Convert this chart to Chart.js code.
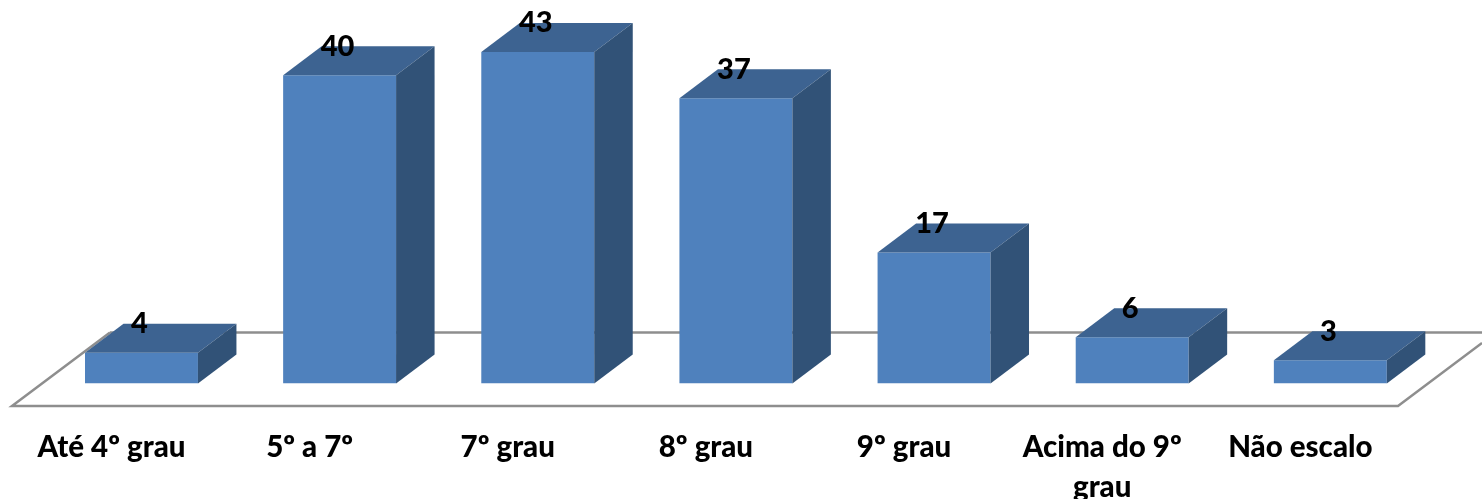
<!DOCTYPE html>
<html>
<head>
<meta charset="utf-8">
<script src="https://cdn.jsdelivr.net/npm/chart.js@4"></script>
<style>
  html, body { margin: 0; padding: 0; background: #fff; overflow: hidden; }
  canvas { display: block; }
</style>
</head>
<body>
<canvas id="grauchart" width="1482" height="499"></canvas>
<script>
// chart data
var categories = ["Até 4º grau", "5º a 7º", "7º grau", "8º grau", "9º grau", ["Acima do 9º", "grau"], "Não escalo"];
var values = [4, 40, 43, 37, 17, 6, 3];

// depth of the fake 3D look
var depthX = 38.5;
var depthY = 29;

var fontName = "Lato, 'Open Sans', sans-serif";

// floor goes under the bars
var floorPlugin = {
  id: "floor",
  beforeDatasetsDraw: function (chart) {
    var ctx = chart.ctx;
    var base = chart.scales.y.getPixelForValue(0);
    var frontY = base + 22.5;
    var backY = base - 51;
    ctx.save();
    ctx.strokeStyle = "#8e8e8e";
    ctx.lineWidth = 2.5;
    ctx.beginPath();
    ctx.moveTo(110, backY);
    ctx.lineTo(12, frontY);
    ctx.lineTo(1398, frontY);
    ctx.lineTo(1482, frontY - 63);
    ctx.moveTo(110, backY);
    ctx.lineTo(1482, backY);
    ctx.stroke();
    ctx.restore();
  },
};

// top and side faces, then the numbers
var boxPlugin = {
  id: "box",
  afterDatasetsDraw: function (chart) {
    var ctx = chart.ctx;
    var bars = chart.getDatasetMeta(0).data;
    ctx.save();
    bars.forEach(function (bar) {
      var left = bar.x - bar.width / 2;
      var right = bar.x + bar.width / 2;

      ctx.fillStyle = "#3d6391";
      ctx.beginPath();
      ctx.moveTo(left, bar.y);
      ctx.lineTo(left + depthX, bar.y - depthY);
      ctx.lineTo(right + depthX, bar.y - depthY);
      ctx.lineTo(right, bar.y);
      ctx.closePath();
      ctx.fill();

      ctx.fillStyle = "#315277";
      ctx.beginPath();
      ctx.moveTo(right, bar.y);
      ctx.lineTo(right + depthX, bar.y - depthY);
      ctx.lineTo(right + depthX, bar.base - depthY);
      ctx.lineTo(right, bar.base);
      ctx.closePath();
      ctx.fill();
    });

    ctx.fillStyle = "#000";
    ctx.font = "900 29px " + fontName;
    ctx.textAlign = "center";
    ctx.textBaseline = "middle";
    bars.forEach(function (bar, i) {
      ctx.fillText(values[i], bar.x - 2, bar.y - 29);
    });
    ctx.restore();
  },
};

var ctx = document.getElementById("grauchart").getContext("2d");

var myChart = new Chart(ctx, {
  type: "bar",
  data: {
    labels: categories,
    datasets: [
      {
        data: values,
        backgroundColor: "#4f81bd",
        categoryPercentage: 1,
        barPercentage: 0.57,
      },
    ],
  },
  options: {
    responsive: false,
    animation: false,
    devicePixelRatio: 1,
    layout: {
      padding: { left: 42.4, right: 52.6, top: 0, bottom: 0 },
    },
    plugins: {
      legend: { display: false },
      tooltip: { enabled: false },
    },
    scales: {
      x: {
        grid: { display: false },
        border: { display: false },
        // fixed height so the baseline stays where the picture has it
        afterFit: function (axis) {
          axis.height = 115.5;
        },
        ticks: {
          color: "#000",
          autoSkip: false,
          maxRotation: 0,
          minRotation: 0,
          labelOffset: -30,
          padding: 36,
          font: { family: fontName, size: 29.5, weight: "900", lineHeight: 1.36 },
        },
      },
      y: {
        display: false,
        min: 0,
        max: 49.75,
      },
    },
  },
  plugins: [floorPlugin, boxPlugin],
});
</script>
</body>
</html>
